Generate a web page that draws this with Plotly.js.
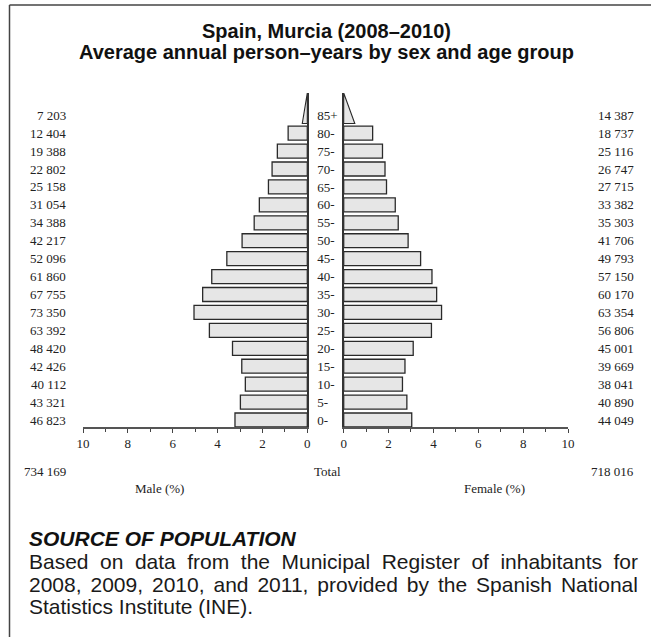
<!DOCTYPE html>
<html>
<head>
<meta charset="utf-8">
<script src="https://cdn.plot.ly/plotly-3.0.1.min.js"></script>
<style>
html,body{margin:0;padding:0;background:#fff;}
#chart{width:651px;height:637px;}
</style>
</head>
<body>
<div id="chart"></div>
<script>
// ---------------- data ----------------
const ageGroups = ['0-','5-','10-','15-','20-','25-','30-','35-','40-','45-','50-','55-','60-','65-','70-','75-','80-','85+'];
const maleCounts = [46823, 43321, 40112, 42426, 48420, 63392, 73350, 67755, 61860, 52096, 42217, 34388, 31054, 25158, 22802, 19388, 12404, 7203];
const femaleCounts = [44049, 40890, 38041, 39669, 45001, 56806, 63354, 60170, 57150, 49793, 41706, 35303, 33382, 27715, 26747, 25116, 18737, 14387];
const maleTotal = 734169;
const femaleTotal = 718016;
const xTickVals = [0, 2, 4, 6, 8, 10];
const titleLines = ['Spain, Murcia (2008\u20132010)', 'Average annual person\u2013years by sex and age group'];
const sourceHeading = 'SOURCE OF POPULATION';
const sourceLines = [
  'Based on data from the Municipal Register of inhabitants for',
  '2008, 2009, 2010, and 2011, provided by the Spanish National',
  'Statistics Institute (INE).'
];

// ---------------- derived ----------------
const grandTotal = maleTotal + femaleTotal;
const malePct = maleCounts.map(v => v / grandTotal * 100);
const femalePct = femaleCounts.map(v => v / grandTotal * 100);
const idx = ageGroups.map((_, i) => i);
const nBar = ageGroups.length - 1; // last group drawn as open-ended triangle
const fmt = n => String(n).replace(/\B(?=(\d{3})+(?!\d))/g, ' ');

// ---------------- geometry helpers ----------------
const W = 651, H = 637, T = 93, B = 427;
const px = x => x / W;
const py = y => (B - y) / (B - T);

const serif = 'Liberation Serif, Times New Roman, serif';
const sans = 'Liberation Sans, Arial, sans-serif';
const barFill = '#e6e6e6';
const barLine = '#2a2a2a';
const yTop = 18.24, yBot = -0.39, barW = 0.78;

const triBase = nBar - barW / 2 - 0.07;
const traces = [
  {type: 'bar', orientation: 'h', x: malePct.slice(0, nBar), y: idx.slice(0, nBar),
   width: barW, xaxis: 'x', yaxis: 'y',
   marker: {color: barFill, line: {color: barLine, width: 1.3}}, hoverinfo: 'x+y'},
  {type: 'bar', orientation: 'h', x: femalePct.slice(0, nBar), y: idx.slice(0, nBar),
   width: barW, xaxis: 'x2', yaxis: 'y2',
   marker: {color: barFill, line: {color: barLine, width: 1.3}}, hoverinfo: 'x+y'},
  {type: 'scatter', mode: 'lines', fill: 'toself', fillcolor: barFill,
   x: [0, malePct[nBar] * 0.45, 0, 0], y: [triBase, triBase, yTop, triBase],
   xaxis: 'x', yaxis: 'y', line: {color: barLine, width: 1.1}, hoverinfo: 'skip'},
  {type: 'scatter', mode: 'lines', fill: 'toself', fillcolor: barFill,
   x: [0, femalePct[nBar] * 0.5, 0, 0], y: [triBase, triBase, yTop, triBase],
   xaxis: 'x2', yaxis: 'y2', line: {color: barLine, width: 1.1}, hoverinfo: 'skip'}
];

const xCommon = {
  tickvals: xTickVals, ticktext: xTickVals.map(String), ticks: 'outside', ticklen: 4,
  tickcolor: '#444', tickwidth: 1,
  minor: {dtick: 1, ticks: 'outside', ticklen: 3, tickcolor: '#444', showgrid: false},
  showline: true, linecolor: '#555', linewidth: 1.5, showgrid: false, zeroline: false,
  tickfont: {family: serif, size: 13, color: '#222'}, fixedrange: true
};
const yCommon = {range: [yBot, yTop], showgrid: false, zeroline: false, showline: true,
  linecolor: '#333', linewidth: 1.3, fixedrange: true};

const annotations = [];
titleLines.forEach((t, i) => annotations.push({
  text: t, xref: 'paper', yref: 'paper', x: px(326), y: py([30.5, 52][i]),
  xanchor: 'center', yanchor: 'middle', showarrow: false,
  font: {family: sans, size: 20, color: '#111', weight: 'bold'}
}));
const smallFont = {family: serif, size: 13, color: '#222'};
idx.forEach(i => {
  annotations.push({text: fmt(maleCounts[i]), xref: 'paper', yref: 'y', x: px(67.5), y: i,
    xanchor: 'right', yanchor: 'middle', showarrow: false, font: smallFont});
  annotations.push({text: fmt(femaleCounts[i]), xref: 'paper', yref: 'y', x: px(636), y: i,
    xanchor: 'right', yanchor: 'middle', showarrow: false, font: smallFont});
});
annotations.push({text: fmt(maleTotal), xref: 'paper', yref: 'paper', x: px(67.5), y: py(471),
  xanchor: 'right', yanchor: 'middle', showarrow: false, font: smallFont});
annotations.push({text: 'Total', xref: 'paper', yref: 'paper', x: px(327), y: py(471),
  xanchor: 'center', yanchor: 'middle', showarrow: false, font: smallFont});
annotations.push({text: fmt(femaleTotal), xref: 'paper', yref: 'paper', x: px(636), y: py(471),
  xanchor: 'right', yanchor: 'middle', showarrow: false, font: smallFont});
annotations.push({text: 'Male (%)', xref: 'paper', yref: 'paper', x: px(159), y: py(488),
  xanchor: 'center', yanchor: 'middle', showarrow: false, font: smallFont});
annotations.push({text: 'Female (%)', xref: 'paper', yref: 'paper', x: px(494), y: py(488),
  xanchor: 'center', yanchor: 'middle', showarrow: false, font: smallFont});

const bodySize = 21, textLeft = 27, textRight = 636;
annotations.push({text: sourceHeading, xref: 'paper', yref: 'paper', x: px(textLeft), y: py(538),
  xanchor: 'left', yanchor: 'middle', showarrow: false,
  font: {family: sans, size: bodySize, color: '#111', weight: 'bold', style: 'italic'}});

// justified body text: widen word spacing of full lines to span the text block
const cv = document.createElement('canvas').getContext('2d');
cv.font = bodySize + 'px "Liberation Sans"';
sourceLines.forEach((line, i) => {
  let txt = line;
  if (i < sourceLines.length - 1) {
    const natural = cv.measureText(line).width;
    const spaces = (line.match(/ /g) || []).length;
    const extra = Math.max(0, (textRight - textLeft - natural) / spaces);
    txt = '<span style="word-spacing:' + extra.toFixed(2) + 'px">' + line + '</span>';
  }
  annotations.push({text: txt, xref: 'paper', yref: 'paper', x: px(textLeft), y: py([561, 584, 606][i]),
    xanchor: 'left', yanchor: 'middle', showarrow: false,
    font: {family: sans, size: bodySize, color: '#1a1a1a'}});
});

const shapes = [
  {type: 'line', xref: 'paper', yref: 'paper', x0: px(9.5), x1: px(651), y0: py(5), y1: py(5),
   line: {color: '#444', width: 1.5}},
  {type: 'line', xref: 'paper', yref: 'paper', x0: px(9.5), x1: px(9.5), y0: py(5), y1: py(637),
   line: {color: '#444', width: 1.5}}
];

const layout = {
  width: W, height: H, margin: {l: 0, r: 0, t: T, b: H - B, pad: 0},
  paper_bgcolor: '#fff', plot_bgcolor: 'rgba(0,0,0,0)', showlegend: false, bargap: 0,
  xaxis: Object.assign({}, xCommon, {domain: [83 / W, 307.3 / W], range: [10, 0], anchor: 'y'}),
  xaxis2: Object.assign({}, xCommon, {domain: [343.7 / W, 568 / W], range: [0, 10], anchor: 'y2'}),
  yaxis: Object.assign({}, yCommon, {anchor: 'x', side: 'right', tickvals: idx, ticktext: ageGroups,
    ticks: '', ticklabelstandoff: 6, tickfont: {family: serif, size: 13, color: '#222'}}),
  yaxis2: Object.assign({}, yCommon, {anchor: 'x2', side: 'left', showticklabels: false, ticks: ''}),
  annotations: annotations, shapes: shapes
};

Plotly.newPlot('chart', traces, layout, {displayModeBar: false, staticPlot: true});
</script>
</body>
</html>
